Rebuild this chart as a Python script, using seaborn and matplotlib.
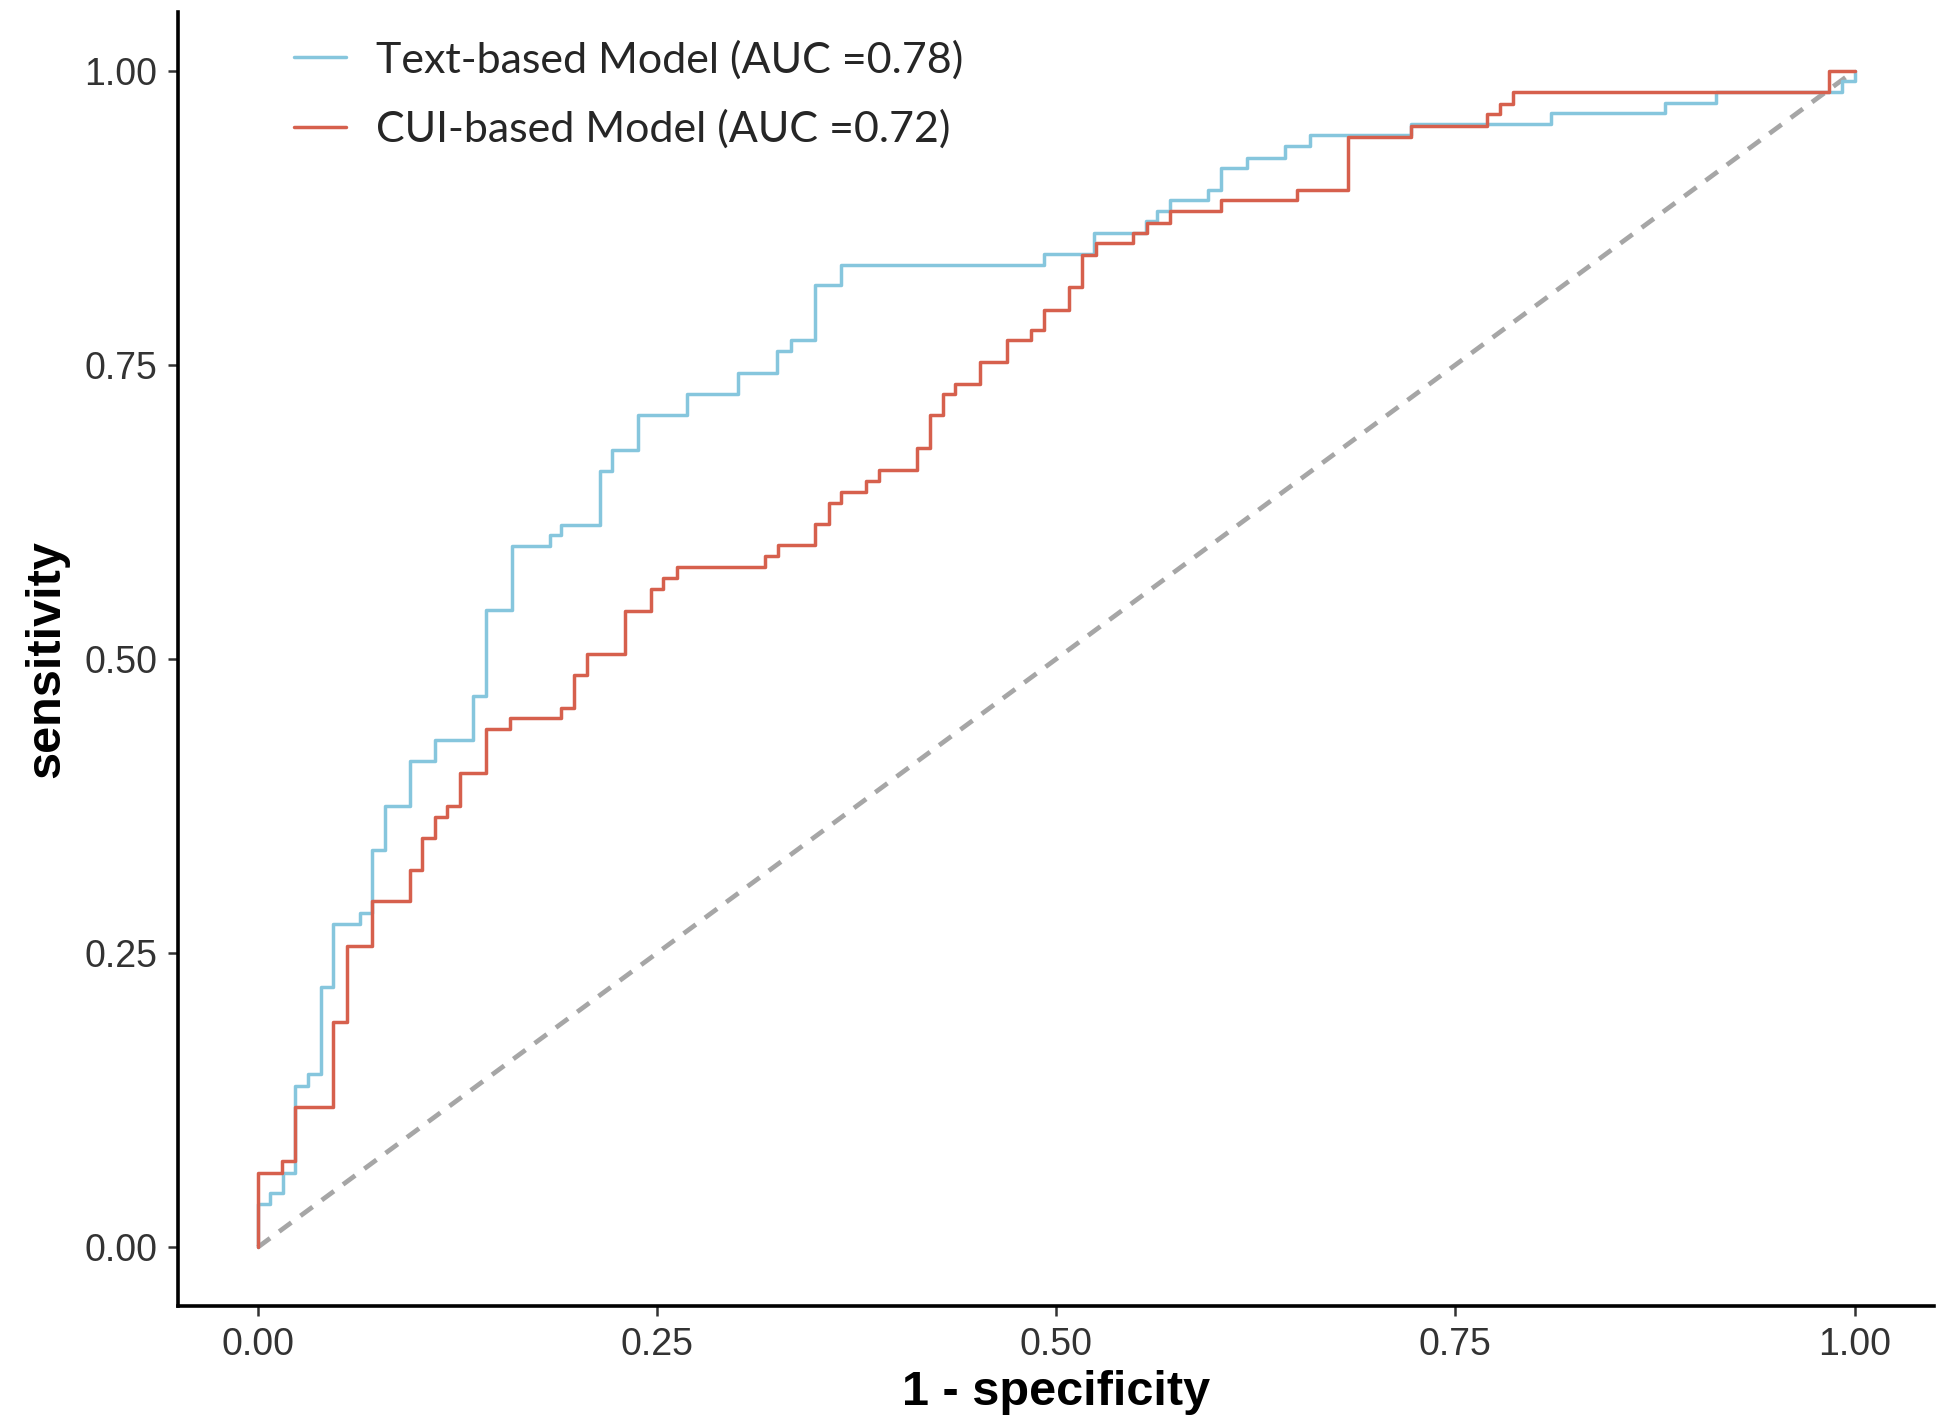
import matplotlib
matplotlib.use("Agg")
import matplotlib.pyplot as plt
import pandas as pd
import seaborn as sns
from matplotlib.lines import Line2D

# ROC step points: (1 - specificity, sensitivity)
text_fpr = [0.0, 0.0, 0.0077, 0.016, 0.0233, 0.0317, 0.0394, 0.0473, 0.064, 0.0713,
            0.0796, 0.0953, 0.111, 0.135, 0.143, 0.159, 0.183, 0.190, 0.214, 0.222,
            0.238, 0.269, 0.301, 0.325, 0.334, 0.349, 0.365, 0.4924, 0.5237, 0.556,
            0.563, 0.571, 0.595, 0.603, 0.6196, 0.643, 0.659, 0.722, 0.81, 0.8815,
            0.913, 0.992, 1.0]
text_tpr = [0.0, 0.037, 0.046, 0.063, 0.137, 0.147, 0.221, 0.275, 0.284, 0.338,
            0.375, 0.413, 0.431, 0.4685, 0.5417, 0.596, 0.6054, 0.614, 0.66, 0.678,
            0.707, 0.725, 0.743, 0.762, 0.771, 0.818, 0.835, 0.844, 0.8625, 0.872,
            0.881, 0.890, 0.899, 0.917, 0.926, 0.9357, 0.9456, 0.955, 0.964, 0.973,
            0.982, 0.991, 1.0]

cui_fpr = [0.0, 0.0, 0.015, 0.0233, 0.0473, 0.0557, 0.0717, 0.0953, 0.103, 0.111,
           0.1186, 0.1265, 0.143, 0.158, 0.190, 0.198, 0.2064, 0.2297, 0.2464, 0.2537,
           0.2625, 0.3173, 0.3256, 0.349, 0.3575, 0.365, 0.381, 0.389, 0.4128, 0.421,
           0.4288, 0.4367, 0.4523, 0.4689, 0.484, 0.4924, 0.508, 0.5164, 0.5247, 0.548,
           0.557, 0.571, 0.603, 0.651, 0.683, 0.722, 0.770, 0.778, 0.786, 0.984, 1.0]
cui_tpr = [0.0, 0.063, 0.073, 0.119, 0.1915, 0.256, 0.294, 0.3206, 0.348, 0.366,
           0.3754, 0.403, 0.4405, 0.4497, 0.4585, 0.486, 0.504, 0.5405, 0.5595, 0.5687,
           0.5784, 0.5879, 0.5966, 0.6148, 0.633, 0.642, 0.651, 0.6607, 0.679, 0.707,
           0.725, 0.7338, 0.7523, 0.7713, 0.780, 0.797, 0.8158, 0.8435, 0.8535, 0.862,
           0.871, 0.881, 0.890, 0.899, 0.944, 0.953, 0.963, 0.972, 0.982, 1.0, 1.0]

labels = ["Text-based Model (AUC =0.78)", "CUI-based Model (AUC =0.72)"]
colors = {labels[0]: "#86C6DD", labels[1]: "#D6604D"}
ticks = [0.0, 0.25, 0.5, 0.75, 1.0]
tick_labels = ["0.00", "0.25", "0.50", "0.75", "1.00"]

df = pd.concat([
    pd.DataFrame({"fpr": text_fpr, "tpr": text_tpr, "model": labels[0]}),
    pd.DataFrame({"fpr": cui_fpr, "tpr": cui_tpr, "model": labels[1]}),
])

sns.set_theme(style="ticks")
plt.rcParams["font.family"] = ["Liberation Sans", "DejaVu Sans"]

fig = plt.figure(figsize=(19.5, 14.23), dpi=100)
ax = fig.add_axes([0.0913, 0.0822, 0.9007, 0.9094])

ax.plot([0, 1], [0, 1], linestyle=(0, (3.2, 2.4)), color="#A6A6A6", linewidth=3.4, zorder=1)
sns.lineplot(data=df, x="fpr", y="tpr", hue="model", palette=colors,
             estimator=None, sort=False, drawstyle="steps-post",
             linewidth=2.5, legend=False, ax=ax, zorder=2)

ax.set_xlim(-0.05, 1.05)
ax.set_ylim(-0.05, 1.05)
ax.set_xticks(ticks)
ax.set_xticklabels(tick_labels)
ax.set_yticks(ticks)
ax.set_yticklabels(tick_labels)
ax.tick_params(axis="both", labelsize=27, colors="#333333", length=7, width=1.8, pad=8)
ax.set_xlabel("1 - specificity", fontsize=35, fontweight="bold", labelpad=5, color="black")
ax.set_ylabel("sensitivity", fontsize=35, fontweight="bold", labelpad=11, color="black")
sns.despine(ax=ax)
for side in ["left", "bottom"]:
    ax.spines[side].set_linewidth(2.6)
    ax.spines[side].set_color("black")

handles = [Line2D([], [], color=colors[l], linewidth=2.5) for l in labels]
ax.legend(handles, labels, loc="upper left", bbox_to_anchor=(0.151, 0.972),
          bbox_transform=fig.transFigure, frameon=False, handlelength=1.2,
          handletextpad=0.7, labelspacing=0.7, borderpad=0, borderaxespad=0,
          prop={"family": "Lato", "size": 31})

fig.savefig("out.png", dpi=100)
